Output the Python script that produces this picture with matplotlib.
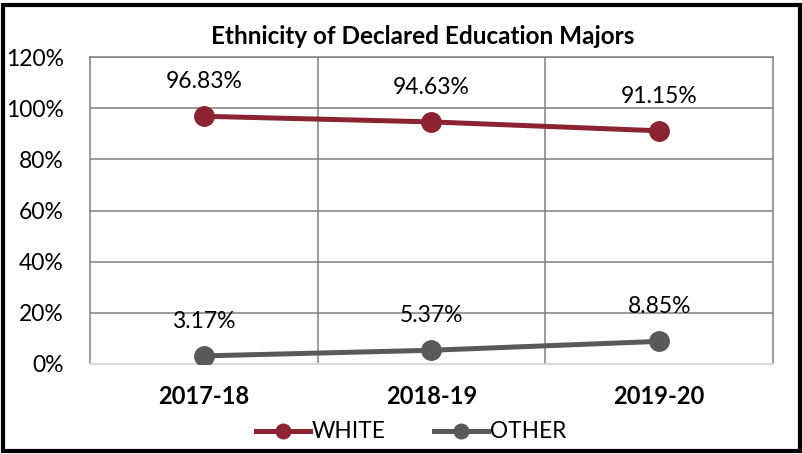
import matplotlib
matplotlib.use("Agg")
import matplotlib.pyplot as plt
from matplotlib.patches import Rectangle

categories = ["2017-18", "2018-19", "2019-20"]
white = [96.83, 94.63, 91.15]
other = [3.17, 5.37, 8.85]
series_names = ["WHITE", "OTHER"]
yticks = [0, 20, 40, 60, 80, 100, 120]

plt.rcParams['font.family'] = ['Lato', 'DejaVu Sans']

fig = plt.figure(figsize=(8.03, 4.54), dpi=100)
ax = fig.add_axes([90/803, 1-364/454, 683/803, 307/454])

x = list(range(len(categories)))
c_white = "#8B2332"
c_other = "#595959"
ax.plot(x, white, color=c_white, lw=3.6, marker="o", ms=14, label=series_names[0], zorder=3)
ax.plot(x, other, color=c_other, lw=3.6, marker="o", ms=14, label=series_names[1], zorder=3)

for xi, v in zip(x, white):
    ax.annotate(f"{v:.2f}%", (xi, v), xytext=(0, 25), textcoords="offset points",
                ha="center", va="center", fontsize=16.5)
for xi, v in zip(x, other):
    ax.annotate(f"{v:.2f}%", (xi, v), xytext=(0, 25), textcoords="offset points",
                ha="center", va="center", fontsize=16.5)

ax.set_xlim(-0.5, 2.5)
ax.set_ylim(0, 120)
ax.set_yticks(yticks)
ax.set_yticklabels([f"{t}%" for t in yticks], fontsize=16.5)
ax.set_xticks(x)
ax.set_xticklabels(categories, fontsize=17, fontweight="bold")
ax.tick_params(axis="both", length=0)
ax.tick_params(axis="y", pad=19)
ax.tick_params(axis="x", pad=15)

for yv in yticks[1:]:
    ax.axhline(yv, color="#808080", lw=1.1, zorder=1)
for xv in [0.5, 1.5]:
    ax.axvline(xv, color="#808080", lw=1.1, zorder=1)
for s in ["left", "right", "top"]:
    ax.spines[s].set_color("#808080")
    ax.spines[s].set_linewidth(1.1)
ax.spines["bottom"].set_color("#D9D9D9")
ax.spines["bottom"].set_linewidth(1.5)

fig.text(423/803, 1-36/454, "Ethnicity of Declared Education Majors", ha="center", va="center",
         fontsize=17.5, fontweight="bold")

leg = fig.legend(loc="center", bbox_to_anchor=(411/803, 1-432/454), ncol=2, frameon=False,
                 fontsize=16.3, handlelength=2.4, columnspacing=2.1, handletextpad=0.1,
                 borderpad=0.0, markerscale=0.75)

fig.patches.append(Rectangle((0.004, 0.006), 0.992, 0.984, transform=fig.transFigure,
                             fill=False, edgecolor="black", lw=3, zorder=10))

fig.savefig("out.png", dpi=100)
